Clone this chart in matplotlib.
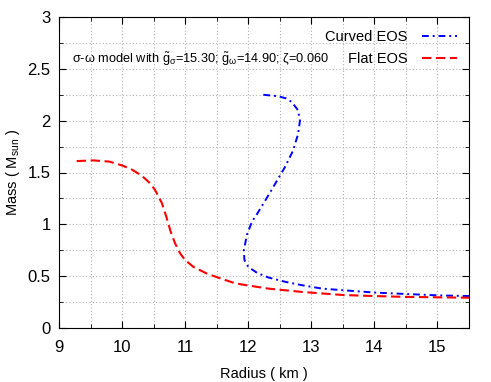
import matplotlib
matplotlib.use("Agg")
import matplotlib.pyplot as plt
from matplotlib.ticker import MultipleLocator

plt.rcParams['font.family'] = ['Liberation Sans', 'DejaVu Sans']
plt.rcParams['mathtext.fontset'] = 'custom'
plt.rcParams['mathtext.rm'] = 'Liberation Sans'
plt.rcParams['mathtext.it'] = 'Liberation Sans'

# Flat EOS (red dashed)
flat_r = [9.28, 9.54, 9.8, 10.0, 10.15, 10.31, 10.42, 10.52, 10.63, 10.70, 10.77,
          10.84, 10.92, 11.0, 11.13, 11.34, 11.56, 11.8, 12.0, 12.32, 12.85, 13.51,
          14.0, 14.5, 15.0, 15.5]
flat_m = [1.61, 1.617, 1.605, 1.568, 1.53, 1.47, 1.41, 1.335, 1.206, 1.076, 0.93,
          0.817, 0.72, 0.655, 0.59, 0.526, 0.478, 0.43, 0.41, 0.38, 0.348, 0.318,
          0.308, 0.30, 0.296, 0.292]

# Curved EOS (blue dash-dot)
curved_r = [12.24, 12.48, 12.6, 12.69, 12.79, 12.82, 12.79, 12.71, 12.58, 12.45, 12.29,
            12.13, 12.06, 11.98, 11.93, 11.94, 12.0, 12.14, 12.32, 12.59, 12.85, 13.17,
            13.51, 14.0, 14.5, 15.0, 15.5]
curved_m = [2.25, 2.235, 2.215, 2.18, 2.10, 2.00, 1.87, 1.71, 1.55, 1.415, 1.25,
            1.09, 1.027, 0.90, 0.75, 0.655, 0.59, 0.532, 0.487, 0.445, 0.413, 0.38,
            0.364, 0.342, 0.328, 0.315, 0.308]

fig = plt.figure(figsize=(4.91, 3.82), dpi=100)
ax = fig.add_axes([59 / 491, 1 - 328 / 382, 410 / 491, 311 / 382])

ax.plot(curved_r, curved_m, color='#0000ff', lw=1.4, linestyle=(0, (3.5, 2, 1, 2)), label='Curved EOS')
ax.plot(flat_r, flat_m, color='#ff0000', lw=1.5, linestyle=(0, (4.5, 2.2)), label='Flat EOS')

ax.set_xlim(9, 15.5)
ax.set_ylim(0, 3)
ax.xaxis.set_major_locator(MultipleLocator(1))
ax.xaxis.set_minor_locator(MultipleLocator(0.5))
ax.yaxis.set_minor_locator(MultipleLocator(0.25))
ax.set_yticks([0, 0.5, 1, 1.5, 2, 2.5, 3])
ax.set_yticklabels(['0', '0.5', '1', '1.5', '2', '2.5', '3'])
ax.grid(True, which='both', color='#b0b0b0', linestyle=(0, (1, 2)), lw=0.8)
ax.tick_params(which='both', direction='in', top=True, right=True, labelsize=12)
ax.tick_params(axis='x', pad=9)
ax.tick_params(axis='y', pad=6)
ax.tick_params(which='major', length=5)
ax.tick_params(which='minor', length=3)

ax.set_xlabel('Radius ( km )', fontsize=10.5, labelpad=8)
ax.set_ylabel(r'Mass ( M$_{\mathrm{sun}}$ )', fontsize=10.5, labelpad=4)

ax.text(9.2, 2.59,
        r'σ-ω model with $\tilde{\mathrm{g}}_{\sigma}$=15.30; $\tilde{\mathrm{g}}_{\omega}$=14.90; ζ=0.060',
        fontsize=9.2, va='center', ha='left')

ax.legend(loc='upper right', frameon=False, markerfirst=False, fontsize=10.5,
          handlelength=2.4, handletextpad=1.0, borderaxespad=0.3, labelspacing=0.55,
          bbox_to_anchor=(0.995, 0.99))

fig.savefig('out.png', dpi=100)
